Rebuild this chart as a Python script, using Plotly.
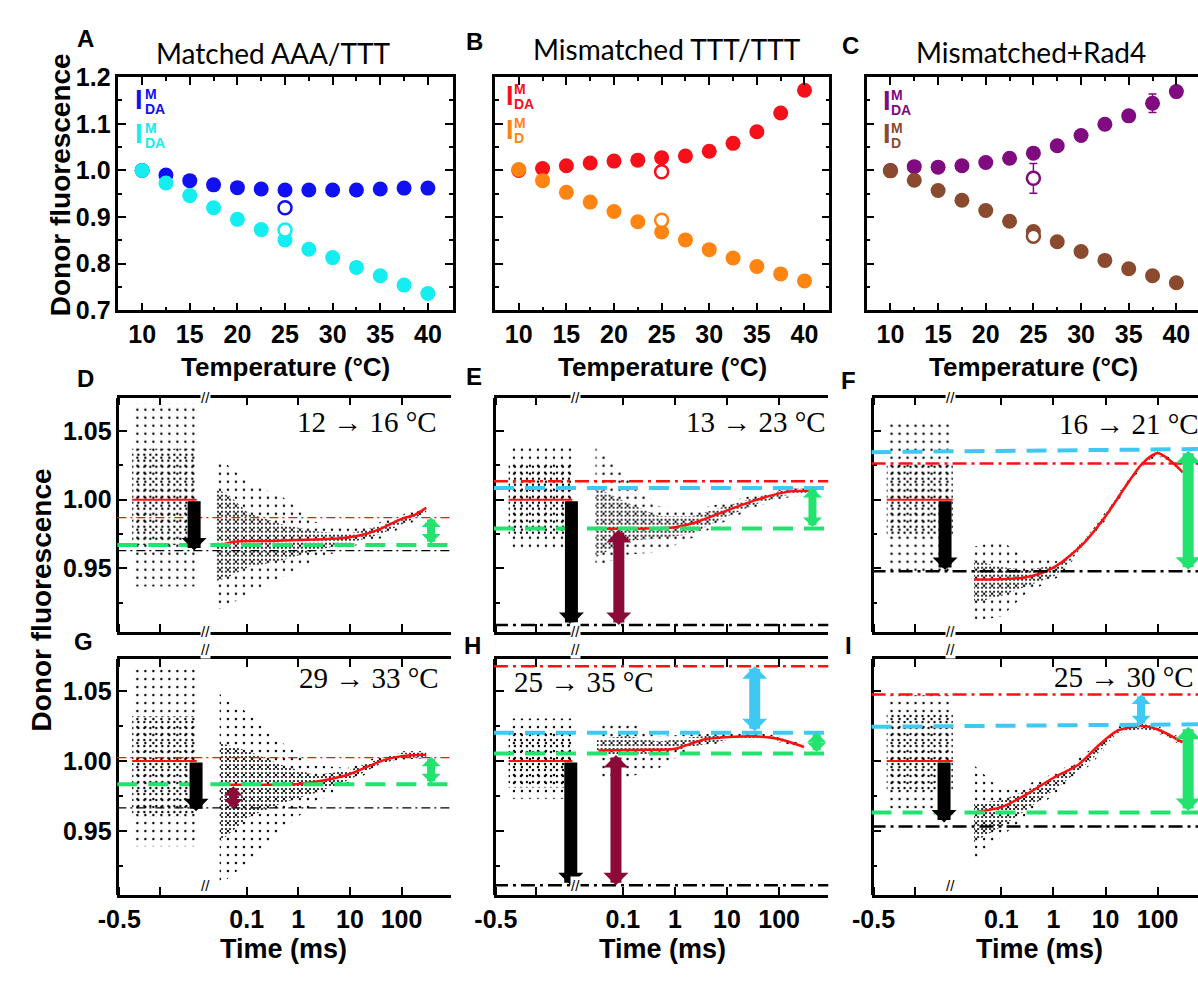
import math
import plotly.graph_objects as go

W, H = 1198, 981
SANS = "Liberation Sans, Arial, sans-serif"
LATO = "Lato, Liberation Sans, sans-serif"
SERIF = "Liberation Serif, DejaVu Serif, serif"

# ===================== A–C : donor fluorescence vs temperature =====================
temps = [10, 12.5, 15, 17.5, 20, 22.5, 25, 27.5, 30, 32.5, 35, 37.5, 40]
open_temp = [25, 25]

matched_ida = [1.000, 0.990, 0.978, 0.969, 0.963, 0.960, 0.958, 0.958, 0.958, 0.958, 0.960, 0.962, 0.962]
matched_id = [1.000, 0.973, 0.946, 0.920, 0.895, 0.873, 0.851, 0.831, 0.813, 0.792, 0.774, 0.754, 0.736]
matched_open = [0.920, 0.872]

mism_ida = [1.000, 1.004, 1.010, 1.016, 1.020, 1.022, 1.027, 1.031, 1.041, 1.058, 1.083, 1.123, 1.172]
mism_id = [1.002, 0.978, 0.953, 0.932, 0.912, 0.890, 0.868, 0.851, 0.830, 0.812, 0.794, 0.778, 0.763]
mism_open = [0.997, 0.893]

rad4_ida = [1.000, 1.008, 1.007, 1.010, 1.017, 1.026, 1.037, 1.053, 1.075, 1.099, 1.117, 1.144, 1.169]
rad4_ida_err = [0, 0, 0, 0, 0, 0, 0, 0, 0, 0, 0, 0.02, 0]
rad4_id = [0.999, 0.979, 0.957, 0.936, 0.914, 0.891, 0.869, 0.847, 0.826, 0.807, 0.789, 0.774, 0.759]
rad4_open = [0.983, 0.859]
rad4_open_err = [0.032, 0.0]

# ===================== D–I : T-jump relaxation traces =====================
pre_window = [-0.42, -0.02]      # ms, pre-jump baseline
baseline = [1.0, 1.0]

# D  12 -> 16 C
d_pre = [0.937, 0.967, 1.037, 1.070]   # outer lo, core lo, core hi, outer hi
d_cloud_t = [0.026, 0.04, 0.11, 0.5, 2.1, 9, 40, 170, 300]
d_cloud_hi = [1.028, 1.026, 1.012, 1.002, 0.984, 0.979, 0.984, 0.992, 0.996]
d_cloud_lo = [0.920, 0.922, 0.932, 0.944, 0.956, 0.965, 0.972, 0.984, 0.990]
d_core_hi = [1.007, 1.005, 0.990, 0.982, 0.977, 0.975, 0.981, 0.990, 0.995]
d_core_lo = [0.941, 0.943, 0.951, 0.956, 0.963, 0.968, 0.975, 0.986, 0.991]
d_fit_t = [0.036, 0.056, 0.3, 1, 3, 9, 20, 40, 100, 180, 300]
d_fit_y = [0.9676, 0.9695, 0.970, 0.9707, 0.9712, 0.9725, 0.975, 0.979, 0.986, 0.989, 0.994]
d_levels = [("red", 0.987, 0.987), ("green", 0.967, 0.967), ("black", 0.963, 0.963)]
d_arrows = [("black", "lin", -0.036, 1.0, 0.963), ("green", "log", 373, 0.967, 0.987)]

# E  13 -> 23 C
e_pre = [0.963, 0.975, 1.027, 1.040]
e_cloud_t = [0.03, 0.12, 0.5, 2.1, 9, 38, 160, 400]
e_cloud_hi = [1.039, 1.016, 0.995, 0.992, 0.998, 1.004, 1.009, 1.009]
e_cloud_lo = [0.951, 0.960, 0.962, 0.972, 0.984, 0.995, 1.002, 1.004]
e_core_hi = [1.009, 0.998, 0.988, 0.988, 0.995, 1.002, 1.008, 1.008]
e_core_lo = [0.958, 0.970, 0.972, 0.975, 0.987, 0.997, 1.004, 1.005]
e_fit_t = [0.03, 0.3, 1, 2.3, 9, 38, 160, 420]
e_fit_y = [0.979, 0.979, 0.980, 0.983, 0.9915, 1.000, 1.006, 1.0065]
e_levels = [("red", 1.0134, 1.0134), ("cyan", 1.0085, 1.0085), ("green", 0.979, 0.979), ("black", 0.909, 0.909)]
e_arrows = [("black", "lin", -0.026, 1.0, 0.909), ("maroon", "log", 0.084, 0.979, 0.909),
            ("green", "log", 436, 0.979, 1.0085)]

# F  16 -> 21 C
f_pre = [0.946, 0.974, 1.026, 1.058]
f_cloud_t = [0.03, 0.1, 0.3, 1.3, 3.5, 10, 24, 50, 100, 180, 300]
f_cloud_hi = [0.966, 0.970, 0.958, 0.955, 0.970, 0.991, 1.012, 1.028, 1.036, 1.030, 1.022]
f_cloud_lo = [0.912, 0.915, 0.932, 0.944, 0.964, 0.985, 1.007, 1.024, 1.032, 1.026, 1.018]
f_core_hi = [0.956, 0.951, 0.949, 0.953, 0.969, 0.990, 1.011, 1.027, 1.035, 1.029, 1.021]
f_core_lo = [0.925, 0.930, 0.937, 0.946, 0.965, 0.986, 1.008, 1.025, 1.033, 1.027, 1.019]
f_fit_t = [0.03, 0.3, 1, 3.5, 10, 24, 50, 100, 178, 300]
f_fit_y = [0.942, 0.9437, 0.9507, 0.967, 0.988, 1.0094, 1.026, 1.0338, 1.028, 1.020]
f_levels = [("red", 1.0263, 1.0263), ("cyan", 1.0345, 1.0367), ("black", 0.948, 0.948)]
f_arrows = [("black", "lin", -0.067, 1.0, 0.949), ("green", "log", 385, 0.948, 1.0355)]

# G  29 -> 33 C
g_pre = [0.939, 0.960, 1.032, 1.068]
g_cloud_t = [0.03, 0.11, 0.49, 2.1, 9, 40, 100, 300]
g_cloud_hi = [1.048, 1.034, 1.013, 0.997, 0.995, 1.004, 1.007, 1.007]
g_cloud_lo = [0.911, 0.928, 0.951, 0.970, 0.983, 0.997, 1.001, 1.002]
g_core_hi = [1.013, 1.007, 0.997, 0.990, 0.993, 1.002, 1.006, 1.006]
g_core_lo = [0.942, 0.960, 0.970, 0.977, 0.986, 0.998, 1.002, 1.003]
g_fit_t = [0.03, 0.3, 1, 3, 10, 44, 100, 300]
g_fit_y = [0.983, 0.983, 0.9835, 0.986, 0.9907, 1.0005, 1.0035, 1.0045]
g_levels = [("red", 1.0025, 1.0025), ("green", 0.9833, 0.9833), ("black", 0.9664, 0.9664)]
g_arrows = [("black", "lin", -0.024, 1.0, 0.964), ("maroon", "log", 0.055, 0.983, 0.966),
            ("green", "log", 373, 0.983, 1.003)]

# H  25 -> 35 C
h_pre = [0.973, 0.981, 1.020, 1.0305]
h_cloud_t = [0.032, 0.12, 0.5, 2, 10, 40, 100, 300]
h_cloud_hi = [1.0273, 1.0287, 1.018, 1.019, 1.0205, 1.020, 1.018, 1.012]
h_cloud_lo = [0.988, 0.988, 0.995, 1.0088, 1.014, 1.0155, 1.0135, 1.008]
h_core_hi = [1.0157, 1.018, 1.014, 1.017, 1.019, 1.019, 1.017, 1.011]
h_core_lo = [1.004, 1.004, 1.005, 1.010, 1.015, 1.0165, 1.0145, 1.009]
h_fit_t = [0.034, 0.3, 1, 4, 18, 38, 100, 300]
h_fit_y = [1.0076, 1.008, 1.0088, 1.0157, 1.0176, 1.0176, 1.0157, 1.010]
h_levels = [("red", 1.0678, 1.0678), ("cyan", 1.0203, 1.0203), ("green", 1.0053, 1.0053), ("black", 0.911, 0.911)]
h_arrows = [("black", "lin", -0.03, 1.0, 0.911), ("maroon", "log", 0.074, 1.0053, 0.911),
            ("cyan", "log", 34, 1.0203, 1.0678), ("green", "log", 525, 1.0053, 1.0203)]

# I  25 -> 30 C
i_pre = [0.9636, 0.979, 1.034, 1.047]
i_cloud_t = [0.03, 0.1, 0.3, 1.3, 5.4, 17, 48, 100, 300]
i_cloud_hi = [0.997, 0.979, 0.983, 0.9926, 1.0088, 1.025, 1.028, 1.025, 1.016]
i_cloud_lo = [0.928, 0.946, 0.960, 0.979, 0.998, 1.019, 1.022, 1.020, 1.011]
i_core_hi = [0.970, 0.9717, 0.979, 0.990, 1.006, 1.023, 1.027, 1.024, 1.015]
i_core_lo = [0.942, 0.953, 0.965, 0.982, 1.001, 1.020, 1.023, 1.021, 1.012]
i_fit_t = [0.034, 0.1, 0.3, 1, 3, 7.4, 17, 48, 100, 300]
i_fit_y = [0.9636, 0.967, 0.976, 0.988, 0.9974, 1.0113, 1.0217, 1.025, 1.0226, 1.0134]
i_levels = [("red", 1.0476, 1.0476), ("cyan", 1.0245, 1.0263), ("green", 0.9632, 0.9632), ("black", 0.9532, 0.9532)]
i_arrows = [("black", "lin", -0.073, 1.0, 0.956), ("cyan", "log", 48, 1.0245, 1.0476),
            ("green", "log", 385, 0.9632, 1.0245)]

# ===================== styling =====================
BLUE, CYAN_PT = "#1010F0", "#14EEF0"
RED_PT, ORANGE = "#F5101A", "#FF8412"
PURPLE, BROWN = "#800A80", "#8A4A2E"
C_RED, C_GREEN, C_CYAN, C_MAROON = "#FF1010", "#22E36E", "#3FC9F2", "#8B0A37"
ARROW_COLORS = {"black": "black", "green": C_GREEN, "cyan": C_CYAN, "maroon": C_MAROON}

TICKFONT = dict(family=SANS, size=25, color="black", weight="bold")


def px_x(p):
    return p / W


def px_y(p):
    return 1 - p / H


fig = go.Figure()
axes = {}
count = {"x": 0, "y": 0}
annotations = []
shapes = []


def new_axis(letter):
    count[letter] += 1
    n = count[letter]
    suffix = "" if n == 1 else str(n)
    axes[f"{letter}axis{suffix}"] = {}
    return letter + suffix, f"{letter}axis{suffix}"


def frame_axis(**kw):
    d = dict(showline=True, linecolor="black", linewidth=2.5, ticks="inside", ticklen=8,
             tickwidth=2, tickcolor="black", showgrid=False, zeroline=False, tickfont=TICKFONT)
    d.update(kw)
    return d


def text(x, y, s, size, family=SANS, bold=False, color="black", angle=0, xanchor="center"):
    annotations.append(dict(x=px_x(x), y=px_y(y), xref="paper", yref="paper", text=s, showarrow=False,
                            textangle=angle, xanchor=xanchor, yanchor="middle",
                            font=dict(family=family, size=size, color=color,
                                      weight="bold" if bold else "normal")))


# ---------------- top row ----------------
TOP = (65, 305)
top_panels = [
    dict(letter="A", title="Matched AAA/TTT", cols=(100, 440), xr=[7.5, 42.6], title_xy=(258, 40), letter_xy=(67, 25),
         series=[(matched_ida, BLUE, None), (matched_id, CYAN_PT, None)], opens=matched_open, open_err=None,
         legend=[(BLUE, "DA", 89), (CYAN_PT, "DA", 124)], leg_x=(115, 125), right=True, labels=True),
    dict(letter="B", title="Mismatched TTT/TTT", cols=(483, 823), xr=[7.5, 42.6], title_xy=(658, 36), letter_xy=(462, 28),
         series=[(mism_ida, RED_PT, None), (mism_id, ORANGE, None)], opens=mism_open, open_err=None,
         legend=[(RED_PT, "DA", 84), (ORANGE, "D", 119)], leg_x=(492, 500), right=True, labels=False),
    dict(letter="C", title="Mismatched+Rad4", cols=(861, 1198), xr=[7.5, 42.27], title_xy=(1028, 39), letter_xy=(845, 32),
         series=[(rad4_ida, PURPLE, rad4_ida_err), (rad4_id, BROWN, None)], opens=rad4_open, open_err=rad4_open_err,
         legend=[(PURPLE, "DA", 90), (BROWN, "D", 124)], leg_x=(876, 884), right=False, labels=False),
]

for p in top_panels:
    xid, xkey = new_axis("x")
    yid, ykey = new_axis("y")
    l, r = p["cols"]
    axes[xkey].update(frame_axis(domain=[px_x(l), px_x(r)], range=p["xr"], anchor=yid, mirror="allticks",
                                 tickmode="linear", tick0=10, dtick=5,
                                 minor=dict(ticks="inside", ticklen=4, tickwidth=1.5, tickcolor="black", dtick=2.5)))
    axes[ykey].update(frame_axis(domain=[px_y(TOP[1]), px_y(TOP[0])], range=[0.7, 1.2], anchor=xid,
                                 mirror="allticks" if p["right"] else False,
                                 tickmode="linear", tick0=0.7, dtick=0.1, tickformat=".1f",
                                 showticklabels=p["labels"],
                                 minor=dict(ticks="inside", ticklen=4, tickwidth=1.5, tickcolor="black", dtick=0.05)))
    for vals, col, err in p["series"]:
        fig.add_trace(go.Scatter(
            x=temps, y=vals, mode="markers", xaxis=xid, yaxis=yid,
            marker=dict(size=15, color=col),
            error_y=dict(type="data", array=err, color=col, thickness=1.5, width=4) if err else None))
    for k, (vals, col, _) in enumerate(p["series"]):
        err = None
        if p["open_err"] is not None and p["open_err"][k] > 0:
            err = dict(type="data", array=[p["open_err"][k]], color=col, thickness=1.5, width=4)
        fig.add_trace(go.Scatter(
            x=[open_temp[k]], y=[p["opens"][k]], mode="markers", xaxis=xid, yaxis=yid,
            marker=dict(size=13, color="white", line=dict(color=col, width=2.5)), error_y=err))
    text(*p["title_xy"], p["title"], 28, family=LATO)
    text(*p["letter_xy"], p["letter"], 24, bold=True)
    text((l + r) / 2 if p["right"] else (l + 1201) / 2, 363, "Temperature (°C)", 26, bold=True)
    for col, sub, yc in p["legend"]:
        text(p["leg_x"][0], yc, "I", 27, bold=True, color=col, xanchor="left")
        text(p["leg_x"][1], yc - 7, "M", 14, bold=True, color=col, xanchor="left")
        text(p["leg_x"][1], yc + 9, sub, 14, bold=True, color=col, xanchor="left")

text(42, 176, "Donor fluorescence", 28, bold=True, angle=-90)

# ---------------- relaxation traces ----------------
COLS = [(99, 183, 438), (482, 565, 822), (866, 952, 1198)]
ROWS = [(395, 636), (664, 907)]
Y_RANGES = [[0.904, 1.074], [0.904, 1.073]]
LOG_RANGES = [[-1.905, 2.952], [-1.906, 2.943], [-1.868, 2.774]]
LIN_RANGE = [-0.512, 0.0]

T_PANELS = [
    dict(letter="D", row=0, col=0, jump="12 → 16 °C", jump_xy=(280, 420), letter_xy=(67, 375),
         pre=d_pre, cloud=(d_cloud_t, d_cloud_lo, d_cloud_hi, d_core_lo, d_core_hi), fit=(d_fit_t, d_fit_y),
         levels=d_levels, arrows=d_arrows, thin=True),
    dict(letter="E", row=0, col=1, jump="13 → 23 °C", jump_xy=(675, 420), letter_xy=(462, 373),
         pre=e_pre, cloud=(e_cloud_t, e_cloud_lo, e_cloud_hi, e_core_lo, e_core_hi), fit=(e_fit_t, e_fit_y),
         levels=e_levels, arrows=e_arrows, thin=False),
    dict(letter="F", row=0, col=2, jump="16 → 21 °C", jump_xy=(1055, 422), letter_xy=(843, 377),
         pre=f_pre, cloud=(f_cloud_t, f_cloud_lo, f_cloud_hi, f_core_lo, f_core_hi), fit=(f_fit_t, f_fit_y),
         levels=f_levels, arrows=f_arrows, thin=False),
    dict(letter="G", row=1, col=0, jump="29 → 33 °C", jump_xy=(282, 683), letter_xy=(65, 646),
         pre=g_pre, cloud=(g_cloud_t, g_cloud_lo, g_cloud_hi, g_core_lo, g_core_hi), fit=(g_fit_t, g_fit_y),
         levels=g_levels, arrows=g_arrows, thin=True),
    dict(letter="H", row=1, col=1, jump="25 → 35 °C", jump_xy=(500, 688), letter_xy=(460, 650),
         pre=h_pre, cloud=(h_cloud_t, h_cloud_lo, h_cloud_hi, h_core_lo, h_core_hi), fit=(h_fit_t, h_fit_y),
         levels=h_levels, arrows=h_arrows, thin=False),
    dict(letter="I", row=1, col=2, jump="25 → 30 °C", jump_xy=(1050, 682), letter_xy=(843, 650),
         pre=i_pre, cloud=(i_cloud_t, i_cloud_lo, i_cloud_hi, i_core_lo, i_core_hi), fit=(i_fit_t, i_fit_y),
         levels=i_levels, arrows=i_arrows, thin=False),
]


def dotted_band(xs, lo, hi, xid, yid, size, solidity):
    return go.Scatter(x=list(xs) + list(xs)[::-1], y=list(hi) + list(lo)[::-1], xaxis=xid, yaxis=yid,
                      mode="lines", line=dict(width=0), fill="toself", fillcolor="rgba(0,0,0,0)",
                      fillpattern=dict(shape=".", fgcolor="black", bgcolor="rgba(0,0,0,0)",
                                       size=size, solidity=solidity, fillmode="replace"),
                      hoverinfo="skip")


for p in T_PANELS:
    r, c = p["row"], p["col"]
    left, brk, right = COLS[c]
    top, bot = ROWS[r]
    yr = Y_RANGES[r]
    ppu = (bot - top) / (yr[1] - yr[0])
    bottom_row = r == 1
    has_right = c < 2

    yid, ykey = new_axis("y")
    xl, xlkey = new_axis("x")
    xg, xgkey = new_axis("x")
    ydom = [px_y(bot), px_y(top)]
    minor_y = dict(ticks="inside", ticklen=4, tickwidth=1.5, tickcolor="black", dtick=0.025)

    axes[ykey].update(frame_axis(domain=ydom, range=yr, anchor="free", position=px_x(left), side="left",
                                 tickmode="linear", tick0=0.95, dtick=0.05, tickformat=".2f",
                                 showticklabels=(c == 0), minor=minor_y))
    if has_right:
        yrid, yrkey = new_axis("y")
        axes[yrkey].update(frame_axis(domain=ydom, range=yr, anchor="free", position=px_x(right), side="right",
                                      overlaying=yid, tickmode="linear", tick0=0.95, dtick=0.05,
                                      showticklabels=False, minor=minor_y))
    axes[xlkey].update(frame_axis(domain=[px_x(left), px_x(brk)], range=LIN_RANGE, anchor=yid, mirror="allticks",
                                  tickmode="array", tickvals=[-0.5], ticktext=["-0.5"],
                                  minor=dict(ticks="inside", ticklen=8, tickwidth=2, tickcolor="black",
                                             tickvals=[-0.25]),
                                  showticklabels=bottom_row))
    axes[xgkey].update(frame_axis(domain=[px_x(brk), px_x(right)], type="log", range=LOG_RANGES[c], anchor=yid,
                                  mirror="allticks", tickmode="array", tickvals=[0.1, 1, 10, 100],
                                  ticktext=["0.1", "1", "10", "100"], showticklabels=bottom_row))

    # scattered detector readings: sparse outer spread plus a denser core
    olo, clo, chi, ohi = p["pre"]
    fig.add_trace(dotted_band(pre_window, [olo, olo], [ohi, ohi], xl, yid, 8, 0.07))
    fig.add_trace(dotted_band(pre_window, [clo, clo], [chi, chi], xl, yid, 6, 0.12))
    t, lo, hi, core_lo, core_hi = p["cloud"]
    fig.add_trace(dotted_band(t, lo, hi, xg, yid, 8, 0.07))
    fig.add_trace(dotted_band(t, core_lo, core_hi, xg, yid, 4, 0.22))

    # reference levels across the whole panel
    for kind, y0, y1 in p["levels"]:
        if kind == "red":
            line = dict(color=C_RED, width=1.2 if p["thin"] else 2.5,
                        dash="9px,4px,2px,4px" if p["thin"] else "14px,5px,3px,5px")
        elif kind == "black":
            line = dict(color="black", width=1.2 if p["thin"] else 2.5,
                        dash="9px,4px,2px,4px" if p["thin"] else "14px,5px,3px,5px")
        elif kind == "green":
            line = dict(color=C_GREEN, width=4, dash="20px,11px")
        else:
            line = dict(color=C_CYAN, width=4, dash="20px,11px")
        shapes.append(dict(type="line", xref="paper", yref=yid, x0=px_x(left), x1=px_x(right),
                           y0=y0, y1=y1, line=line, layer="above"))

    # baseline before the jump and the kinetic fit after it
    fig.add_trace(go.Scatter(x=pre_window, y=baseline, mode="lines", xaxis=xl, yaxis=yid,
                             line=dict(color=C_RED, width=2)))
    fig.add_trace(go.Scatter(x=p["fit"][0], y=p["fit"][1], mode="lines", xaxis=xg, yaxis=yid,
                             line=dict(color=C_RED, width=2.5, shape="spline", smoothing=0.8)))

    # amplitude arrows
    for kind, ax_kind, xv, tail, tip in p["arrows"]:
        xref = xl if ax_kind == "lin" else xg
        xpos = xv if ax_kind == "lin" else math.log10(xv)
        length_px = abs(tip - tail) * ppu
        if kind == "black":
            width, head = 13, 25
        elif length_px < 45:
            width, head = 8, 19
        else:
            width, head = 11, 25
        size = max(head / (6.0 * width), 0.3)
        a = dict(x=xpos, y=tip, ax=xpos, ay=tail, xref=xref, yref=yid, axref=xref, ayref=yid,
                 text="", showarrow=True, arrowhead=1, arrowsize=size,
                 arrowwidth=width, arrowcolor=ARROW_COLORS[kind], standoff=0)
        if kind != "black":
            a.update(arrowside="end+start", startarrowhead=1, startarrowsize=size, startstandoff=0)
        annotations.append(a)

    # axis-break marks
    for yy in (top, bot):
        annotations.append(dict(x=px_x(brk), y=px_y(yy), xref="paper", yref="paper", text="//",
                                showarrow=False, bgcolor="white", borderpad=0,
                                font=dict(family=SANS, size=15, color="black")))

    text(*p["jump_xy"], p["jump"], 29, family=SERIF, xanchor="left")
    text(*p["letter_xy"], p["letter"], 24, bold=True)
    if bottom_row:
        text({0: 268, 1: 653, 2: 1037}[c], 962, "Time (ms)", 27, bold=True)

text(22, 603, "Donor fluorescence", 28, bold=True, angle=-90)

fig.update_layout(**axes)
fig.update_layout(width=W, height=H, margin=dict(l=0, r=0, t=0, b=0), showlegend=False,
                  plot_bgcolor="white", paper_bgcolor="white",
                  annotations=annotations, shapes=shapes)
fig.write_html("out.html")
